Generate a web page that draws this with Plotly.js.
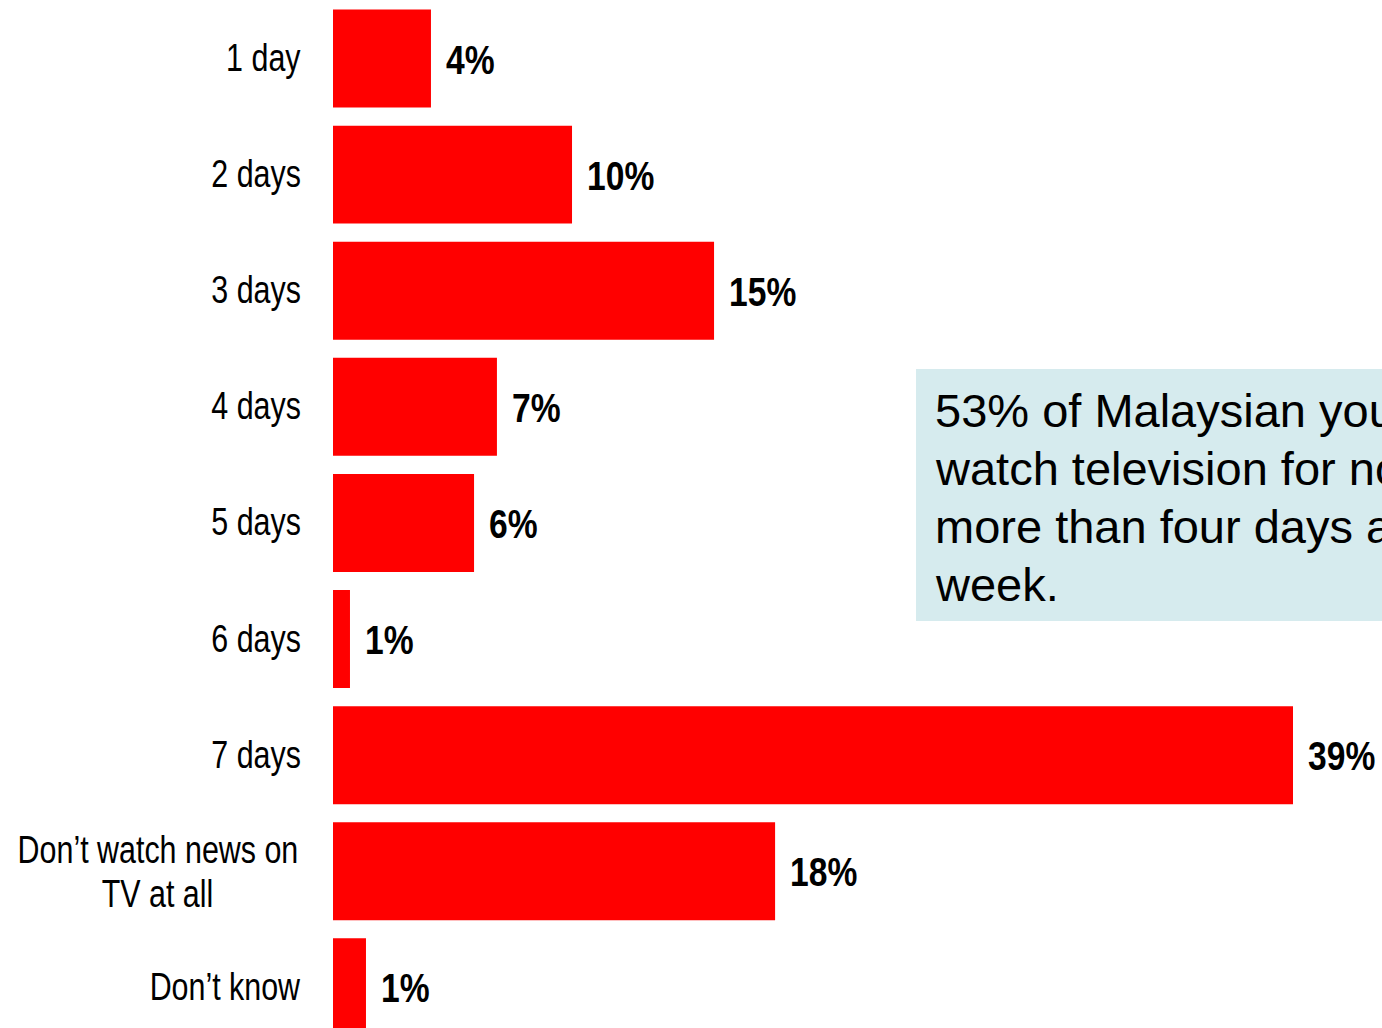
<!DOCTYPE html>
<html>
<head>
<meta charset="utf-8">
<script src="https://cdn.plot.ly/plotly-3.0.1.min.js"></script>
<style>
  html, body { margin: 0; padding: 0; background: #ffffff; overflow: hidden; }
  #chart { width: 1382px; height: 1028px; }
</style>
</head>
<body>
<div id="chart"></div>
<script>
// Categories (top to bottom)
const categories = ["1 day", "2 days", "3 days", "4 days", "5 days", "6 days", "7 days", "Don’t watch news on<br>TV at all", "Don’t know"];
// Bar lengths (percent)
const values = [3.98, 9.71, 15.48, 6.66, 5.73, 0.69, 39.0, 17.96, 1.34];
// Printed value labels
const valueLabels = ["4%", "10%", "15%", "7%", "6%", "1%", "39%", "18%", "1%"];
// Callout text, line by line
const calloutLines = ["53% of Malaysian youth", "watch television for no", "more than four days a", "week."];

const sans = '"Liberation Sans", Arial, Helvetica, sans-serif';

const plotW = 1382 - 333, plotH = 1028;
const px = v => (v - 333) / plotW;
const py = v => 1 - v / plotH;

const trace = {
  type: 'bar',
  orientation: 'h',
  x: values,
  y: categories.map((c, i) => i),
  marker: { color: '#ff0000', line: { width: 0 } },
  hoverinfo: 'skip'
};

const annotations = [];
const squeeze = []; // [annotation index, scaleX, origin]

categories.forEach((c, i) => {
  const lines = c.split('<br>');
  if (lines.length === 1) {
    squeeze.push([annotations.length, 0.78, 'right center']);
    annotations.push({
      xref: 'paper', yref: 'y', x: 0, y: i,
      xanchor: 'right', yanchor: 'middle', xshift: -30, yshift: 1,
      text: c, showarrow: false,
      font: { family: sans, size: 39, color: '#000000' }
    });
  } else {
    const shifts = [21.8, -22.2];
    lines.forEach((ln, k) => {
      squeeze.push([annotations.length, 0.78, 'center center']);
      annotations.push({
        xref: 'paper', yref: 'y', x: px(157.5), y: i,
        xanchor: 'center', yanchor: 'middle', yshift: shifts[k],
        text: ln, showarrow: false,
        font: { family: sans, size: 39, color: '#000000' }
      });
    });
  }
  squeeze.push([annotations.length, 0.83, 'left center']);
  annotations.push({
    xref: 'x', yref: 'y', x: values[i], y: i,
    xanchor: 'left', yanchor: 'middle', xshift: 13, yshift: -1,
    text: '<b>' + valueLabels[i] + '</b>', showarrow: false,
    font: { family: sans, size: 40.5, color: '#000000' }
  });
});

// callout text lines
const calloutCenters = [410.4, 468.4, 526.4, 584.4];
calloutLines.forEach((ln, k) => {
  annotations.push({
    xref: 'paper', yref: 'paper', x: px(933), y: py(calloutCenters[k]),
    xanchor: 'left', yanchor: 'middle',
    text: ln, showarrow: false,
    font: { family: sans, size: 47, color: '#000000' }
  });
});

const layout = {
  width: 1382, height: 1028,
  margin: { l: 333, r: 0, t: 0, b: 0, pad: 0 },
  paper_bgcolor: '#ffffff', plot_bgcolor: '#ffffff',
  showlegend: false,
  bargap: 0.156,
  xaxis: { range: [0, plotW / (960 / 39)], showgrid: false, zeroline: false, showticklabels: false, ticks: '', showline: false, fixedrange: true },
  yaxis: { type: 'linear', range: [8.35, -0.504], showgrid: false, zeroline: false, showticklabels: false, ticks: '', showline: false, fixedrange: true },
  shapes: [{
    type: 'rect', xref: 'paper', yref: 'paper', layer: 'below',
    x0: px(916), x1: px(1500), y0: py(621), y1: py(369),
    fillcolor: '#d6ebee', line: { width: 0 }
  }],
  annotations: annotations
};

Plotly.newPlot('chart', [trace], layout, { displayModeBar: false, staticPlot: true }).then(gd => {
  // narrow the label glyphs horizontally (Arial Narrow look)
  squeeze.forEach(([idx, s, origin]) => {
    const t = gd.querySelector('.annotation[data-index="' + idx + '"] text.annotation-text');
    if (t) {
      t.style.transformBox = 'fill-box';
      t.style.transformOrigin = origin;
      t.style.transform = 'scaleX(' + s + ')';
    }
  });
});
</script>
</body>
</html>
